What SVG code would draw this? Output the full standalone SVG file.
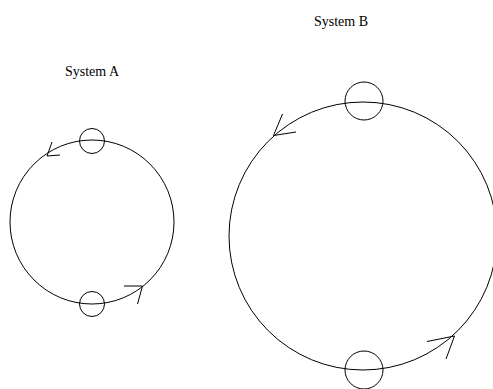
<svg xmlns="http://www.w3.org/2000/svg" width="493" height="389" viewBox="0 0 493 389">
<style>
.ln{fill:none;stroke:#000;stroke-width:1}
.lbl{font-family:"Liberation Serif","Times New Roman",serif;font-size:14px;fill:#000}
</style>
<rect width="493" height="389" fill="#fff"/>
<g id="systemA">
<text class="lbl" x="65" y="76">System A</text>
<circle class="ln" cx="92" cy="222" r="82"/>
</g>
<g id="nodeA1"><circle class="ln" cx="92" cy="141" r="12.5"/></g>
<g id="nodeA2"><circle class="ln" cx="92" cy="304" r="12.5"/></g>
<g id="systemB">
<text class="lbl" x="314" y="26">System B</text>
<circle class="ln" cx="363" cy="236" r="134"/>
</g>
<g id="nodeB1"><circle class="ln" cx="364" cy="101" r="19"/></g>
<g id="nodeB2"><circle class="ln" cx="364" cy="370" r="19"/></g>
<g id="connectors">
<polyline class="ln" points="52,142 47,156 60,155"/>
<polyline class="ln" points="124,286 142.5,286 137.5,304"/>
<polyline class="ln" points="282.5,114 273.5,135.5 296,132"/>
<polyline class="ln" points="427,341.5 454.5,336 446,359"/>
</g>
</svg>
